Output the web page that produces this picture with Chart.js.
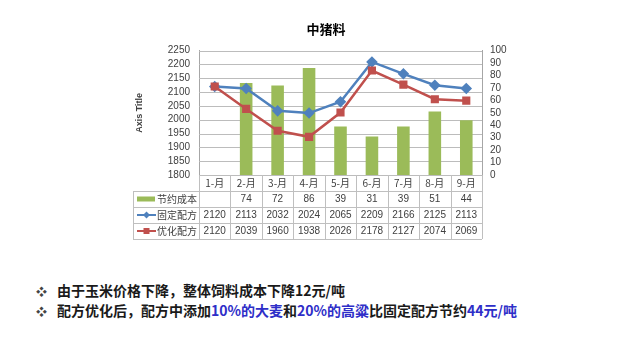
<!DOCTYPE html>
<html>
<head>
<meta charset="utf-8">
<script src="https://cdn.jsdelivr.net/npm/chart.js@4.4.1/dist/chart.umd.min.js"></script>
<style>
  body { margin: 0; background: #fff; width: 640px; height: 344px; overflow: hidden; position: relative; }
  #wrap { position: absolute; left: 0; top: 0; width: 640px; height: 250px; }
  .note { position: absolute; left: 36px; font: bold 14px "Noto Sans CJK SC", sans-serif; color: #1a1a1a; white-space: nowrap; }
  .note .b { display: inline-block; width: 21px; font-size: 11px; color: #444; }
  .note .hl { color: #2e2ec8; }
</style>
</head>
<body>
<div id="wrap"><canvas id="chart" width="640" height="250"></canvas></div>
<div class="note" style="top:280px"><span class="b">❖</span>由于玉米价格下降，整体饲料成本下降12元/吨</div>
<div class="note" style="top:300px"><span class="b">❖</span>配方优化后，配方中添加<span class="hl">10%的大麦</span>和<span class="hl">20%的高粱</span>比固定配方节约<span class="hl">44元/吨</span></div>
<script>
// 数据
const months = ['1-月', '2-月', '3-月', '4-月', '5-月', '6-月', '7-月', '8-月', '9-月'];
const saving = [null, 74, 72, 86, 39, 31, 39, 51, 44];      // 节约成本
const fixedFormula = [2120, 2113, 2032, 2024, 2065, 2209, 2166, 2125, 2113]; // 固定配方
const optFormula = [2120, 2039, 1960, 1938, 2026, 2178, 2127, 2074, 2069];   // 优化配方

const GREEN = '#9bbb59', BLUE = '#4f81bd', RED = '#c0504d';
const tickFont = { family: 'Liberation Sans, Arial, sans-serif', size: 10 };

// 横向网格线（按左轴刻度画）
const gridPlugin = {
  id: 'hGrid',
  beforeDatasetsDraw(chart) {
    const c = chart.ctx, a = chart.chartArea, y = chart.scales.y;
    c.save();
    c.strokeStyle = '#bcbcbc';
    c.lineWidth = 1;
    c.beginPath();
    y.ticks.forEach(t => {
      const py = Math.round(y.getPixelForValue(t.value)) + 0.5;
      c.moveTo(a.left, py); c.lineTo(a.right, py);
    });
    c.stroke();
    c.restore();
  }
};

// 数据表（图下方）
const tablePlugin = {
  id: 'dataTable',
  afterDraw(chart) {
    const c = chart.ctx, a = chart.chartArea;
    const n = months.length, w = (a.right - a.left) / n;
    const rowH = 16, top = a.bottom, labelLeft = 133;
    c.save();
    c.strokeStyle = '#bfbfbf';
    c.lineWidth = 1;
    c.beginPath();
    for (let i = 0; i <= n; i++) {
      const x = Math.round(a.left + i * w) + 0.5;
      c.moveTo(x, top); c.lineTo(x, top + rowH * 4);
    }
    for (let r = 1; r <= 4; r++) {
      const y = top + r * rowH + 0.5;
      c.moveTo(labelLeft, y); c.lineTo(a.right, y);
    }
    c.moveTo(labelLeft + 0.5, top + rowH); c.lineTo(labelLeft + 0.5, top + rowH * 4);
    c.stroke();

    c.fillStyle = '#404040';
    c.font = '10px "Noto Sans CJK SC", sans-serif';
    c.textAlign = 'center';
    c.textBaseline = 'middle';
    months.forEach((m, i) => c.fillText(m, a.left + (i + 0.5) * w, top + rowH / 2));

    const rows = [
      { name: '节约成本', vals: saving, kind: 'bar' },
      { name: '固定配方', vals: fixedFormula, kind: 'line', color: BLUE },
      { name: '优化配方', vals: optFormula, kind: 'line', color: RED }
    ];
    rows.forEach((row, r) => {
      const cy = top + (r + 1.5) * rowH;
      if (row.kind === 'bar') {
        c.fillStyle = GREEN;
        c.fillRect(137, cy - 2.5, 18, 5);
      } else {
        c.strokeStyle = row.color; c.lineWidth = 2;
        c.beginPath(); c.moveTo(137, cy); c.lineTo(156, cy); c.stroke();
        c.fillStyle = row.color;
        c.beginPath();
        if (r === 1) { c.moveTo(146.5, cy - 3.5); c.lineTo(150, cy); c.lineTo(146.5, cy + 3.5); c.lineTo(143, cy); }
        else c.rect(143.5, cy - 3, 6, 6);
        c.fill();
      }
      c.fillStyle = '#404040';
      c.font = '10px "Noto Sans CJK SC", sans-serif';
      c.textAlign = 'left';
      c.fillText(row.name, 157, cy);
      c.textAlign = 'center';
      c.font = '10px Liberation Sans, Arial, sans-serif';
      row.vals.forEach((v, i) => {
        if (v !== null) c.fillText(String(v), a.left + (i + 0.5) * w, cy);
      });
    });
    c.restore();
  }
};

new Chart(document.getElementById('chart'), {
  data: {
    labels: months,
    datasets: [
      { type: 'line', label: '固定配方', data: fixedFormula, yAxisID: 'y', borderColor: BLUE, backgroundColor: BLUE,
        borderWidth: 2.5, pointStyle: 'rectRot', pointRadius: 4, tension: 0, order: 1 },
      { type: 'line', label: '优化配方', data: optFormula, yAxisID: 'y', borderColor: RED, backgroundColor: RED,
        borderWidth: 2.5, pointStyle: 'rect', pointRadius: 4, tension: 0, order: 0 },
      { type: 'bar', label: '节约成本', data: saving, yAxisID: 'y1', backgroundColor: GREEN,
        barPercentage: 0.4, categoryPercentage: 1, order: 2 }
    ]
  },
  options: {
    responsive: false,
    animation: false,
    layout: { padding: { left: 130, right: 118, top: 0, bottom: 11 } },
    plugins: {
      legend: { display: false },
      tooltip: { enabled: false },
      title: { display: true, text: '中猪料', color: '#000', padding: { top: 21, bottom: 14 },
        font: { family: '"Noto Sans CJK SC", sans-serif', size: 13, weight: 'bold' } }
    },
    scales: {
      x: {
        offset: true,
        grid: { display: false, drawTicks: false },
        border: { display: false },
        ticks: { display: false },
        afterFit: s => { s.height = 64; }
      },
      y: {
        position: 'left', min: 1800, max: 2250,
        ticks: { stepSize: 50, autoSkip: false, color: '#404040', font: tickFont, padding: 9, callback: v => String(v) },
        grid: { display: false, drawTicks: false },
        border: { color: '#a6a6a6' },
        title: { display: true, text: 'Axis Title', color: '#404040',
          font: { family: 'Liberation Sans, Arial, sans-serif', size: 9, weight: 'bold' }, padding: { top: 4, bottom: 0 } },
        afterFit: s => { s.width = 69; }
      },
      y1: {
        position: 'right', min: 0, max: 100,
        ticks: { stepSize: 10, autoSkip: false, color: '#404040', font: tickFont, padding: 8, callback: v => String(v) },
        grid: { display: false, drawTicks: false },
        border: { color: '#a6a6a6' },
        afterFit: s => { s.width = 40; }
      }
    }
  },
  plugins: [gridPlugin, tablePlugin]
});
</script>
</body>
</html>
